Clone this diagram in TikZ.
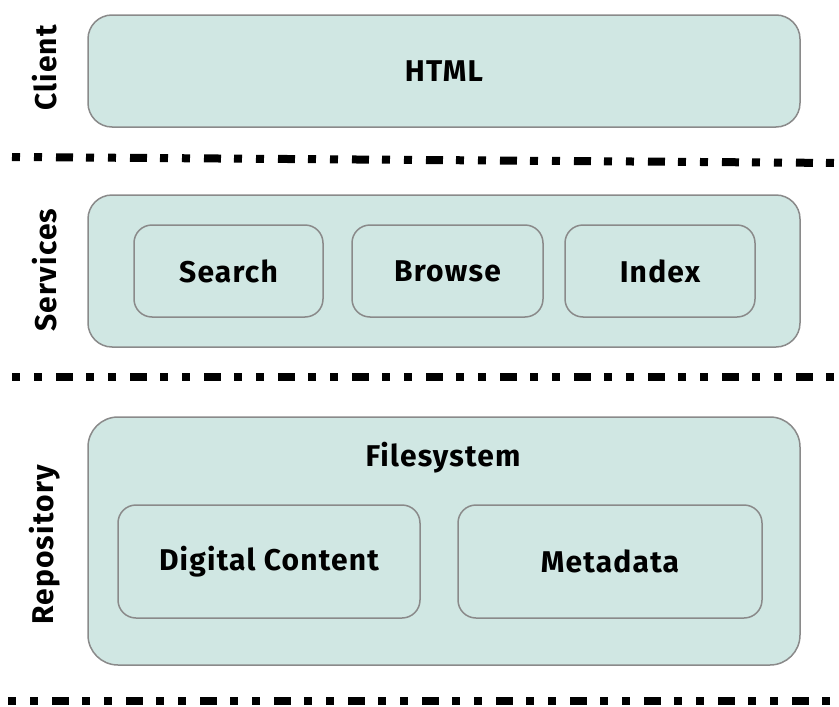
\documentclass[tikz,border=0pt]{standalone}
\usepackage{fontspec}
\setmainfont{Fira Sans}[LetterSpace=4]
\definecolor{boxfill}{HTML}{D0E7E3}
\definecolor{boxline}{HTML}{8A8A8A}
\begin{document}
\begin{tikzpicture}[x=1pt,y=-1pt,
  lbl/.style={font=\fontsize{30}{36}\selectfont\bfseries, text=black},
  outerbox/.style={draw=boxline, line width=1.5pt, fill=boxfill, rounded corners=24pt, inner sep=0pt},
  innerbox/.style={draw=boxline, line width=1.5pt, fill=boxfill, rounded corners=18pt, inner sep=0pt, lbl},
  sep/.style={line width=8pt, dash pattern=on 8pt off 14pt on 8pt off 14pt on 17pt off 13pt},
  side/.style={lbl, rotate=90}]
\useasboundingbox (0,0) rectangle (839,707);
% layer separators
\coordinate (s1a) at (12,157); \coordinate (s1b) at (839,163);
\coordinate (s2a) at (12,377); \coordinate (s2b) at (839,377);
\coordinate (s3a) at (8,701);  \coordinate (s3b) at (839,701);
\draw[sep] (s1a) -- (s1b);
\draw[sep] (s2a) -- (s2b);
\draw[sep] (s3a) -- (s3b);
% client
\node[outerbox, minimum width=712pt, minimum height=112pt] (client) at (444,71) {};
\node[lbl] (html) at (client.center) {HTML};
\node[side] (clientlbl) at (45,68) {Client};
% services
\node[outerbox, minimum width=712pt, minimum height=152pt] (services) at (444,271) {};
\node[innerbox, minimum width=189pt, minimum height=92pt] (search) at (228.5,271) {Search};
\node[innerbox, minimum width=191pt, minimum height=92pt] (browse) at (447.5,271) {Browse};
\node[innerbox, minimum width=190pt, minimum height=92pt] (index) at (660,271) {Index};
\node[side] (serviceslbl) at (45,270) {Services};
% repository
\node[outerbox, rounded corners=30pt, minimum width=712pt, minimum height=248pt] (repo) at (444,541) {};
\node[lbl] (fs) at (443,458) {Filesystem};
\node[innerbox, minimum width=302pt, minimum height=113pt] (dc) at (269,561.5) {Digital Content};
\node[innerbox, minimum width=304pt, minimum height=113pt] (meta) at (610,561.5) {Metadata};
\node[side] (repolbl) at (45,545) {Repository};
\end{tikzpicture}
\end{document}
